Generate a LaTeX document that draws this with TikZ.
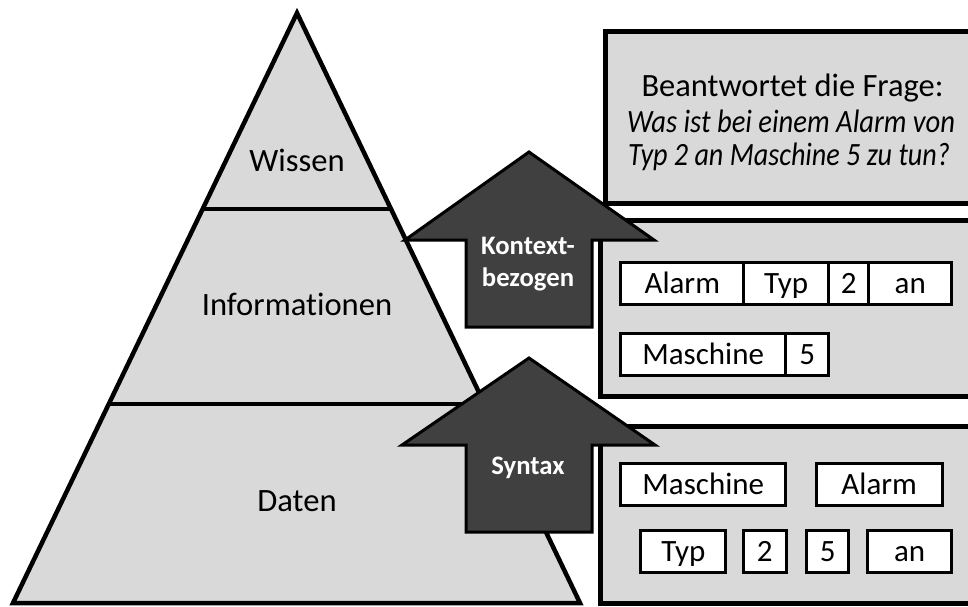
\documentclass[tikz,border=0pt]{standalone}
\usepackage{fontspec}
\setmainfont{Carlito}[Ligatures=NoCommon]
\usetikzlibrary{calc}
\definecolor{layergray}{HTML}{D9D9D9}
\definecolor{arrowgray}{HTML}{404040}
\begin{document}
\begin{tikzpicture}[x=1pt,y=-1pt,
  layer/.style={fill=layergray,draw=black,line width=4.5pt},
  divider/.style={draw=black,line width=4.5pt},
  panel/.style={fill=layergray,draw=black,line width=5pt},
  uparrow/.style={fill=arrowgray,draw=black,line width=3pt},
  word/.style={draw=black,fill=white,line width=3pt,inner sep=0pt,
    minimum height=42pt,text height=20pt,text depth=0pt,
    font=\fontsize{31}{36}\selectfont},
  level/.style={anchor=base,font=\fontsize{32.6}{36}\selectfont},
  question/.style={anchor=base,inner sep=0pt,font=\fontsize{32.5}{36}\selectfont},
  arrowtext/.style={anchor=base,text=white,font=\bfseries\fontsize{26.7}{30}\selectfont}]
\clip (0,0) rectangle (968,606);

% pyramid with its three levels
\coordinate (apex) at (297,13);
\coordinate (bl) at (13,603);
\coordinate (br) at (580,603);
\coordinate (l1) at ($(apex)!0.3319!(bl)$);
\coordinate (r1) at ($(apex)!0.3319!(br)$);
\coordinate (l2) at ($(apex)!0.6631!(bl)$);
\coordinate (r2) at ($(apex)!0.6631!(br)$);
\draw[layer] (apex) -- (bl) -- (br) -- cycle;
\draw[divider] (l1) -- (r1);
\draw[divider] (l2) -- (r2);
\node[level] (wissen) at (297,171) {Wissen};
\node[level] (info) at (297,315.7) {Informationen};
\node[level] (daten) at (297,511.7) {Daten};

% panels on the right
\draw[panel] (605.5,31) rectangle (990,203);
\draw[panel] (600.5,220.5) rectangle (990,396.5);
\draw[panel] (600.5,426.7) rectangle (990,603);

% question panel
\node[question] (q1) at (792.5,96) {\resizebox{302pt}{\height}{Beantwortet die Frage:}};
\node[question] (q2) at (791,132.7) {\resizebox{328pt}{\height}{\itshape Was ist bei einem Alarm von}};
\node[question] (q3) at (789,165.5) {\resizebox{322pt}{\height}{\itshape Typ 2 an Maschine 5 zu tun?}};

% information panel: words joined in order
\node[word,minimum width=123pt] (i1) at (682.3,283.7) {Alarm};
\node[word,minimum width=84.3pt] (i2) at (786.1,283.7) {Typ};
\node[word,minimum width=40.7pt] (i3) at (848.6,283.7) {2};
\node[word,minimum width=82.7pt] (i4) at (910.3,283.7) {an};
\node[word,minimum width=165pt] (i5) at (703.2,354.8) {Maschine};
\node[word,minimum width=43pt] (i6) at (807.2,354.8) {5};

% data panel: loose words
\node[word,minimum width=165.3pt] (d1) at (703.3,484.2) {Maschine};
\node[word,minimum width=126.3pt] (d2) at (879.2,484.2) {Alarm};
\node[word,minimum width=84.7pt] (d3) at (683.3,551.7) {Typ};
\node[word,minimum width=42.7pt] (d4) at (764.7,551.7) {2};
\node[word,minimum width=42pt] (d5) at (827.7,551.7) {5};
\node[word,minimum width=84pt] (d6) at (909.7,551.7) {an};

% upward arrows between the levels
\draw[uparrow] (529,152) -- (654,240) -- (592,240) -- (592,327)
  -- (466,327) -- (466,240) -- (405,240) -- cycle;
\draw[uparrow] (529,358) -- (655,445) -- (592,445) -- (592,532)
  -- (466,532) -- (466,445) -- (402,445) -- cycle;
\node[arrowtext] (k1) at (528,254.5) {Kontext-};
\node[arrowtext] (k2) at (528,286.3) {bezogen};
\node[arrowtext] (syn) at (528,474.6) {Syntax};
\end{tikzpicture}
\end{document}
